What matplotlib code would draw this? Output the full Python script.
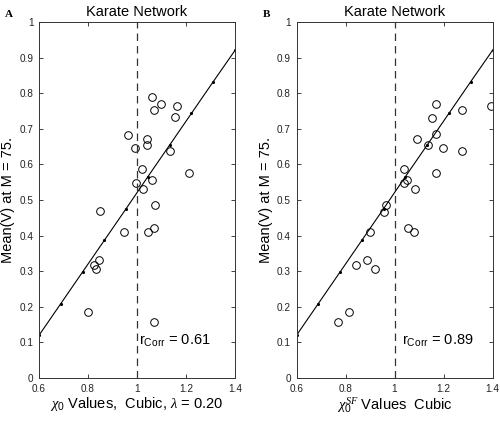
import numpy as np
import matplotlib
matplotlib.use("Agg")
import matplotlib.pyplot as plt

plt.rcParams['font.family'] = ['Liberation Sans', 'DejaVu Sans']
plt.rcParams['mathtext.fontset'] = 'custom'
plt.rcParams['mathtext.rm'] = 'Liberation Sans'
plt.rcParams['mathtext.it'] = 'Liberation Serif:italic'

# mean(V) values, same nodes in both panels
chi_a = [1.061, 1.097, 1.071, 1.163, 1.154, 0.964, 0.991, 1.040, 1.041, 1.134,
         1.021, 1.213, 1.060, 0.996, 1.024, 1.075, 0.849, 0.945, 1.044, 1.071,
         0.843, 0.826, 0.832, 0.802, 1.071]
mv_a = [0.789, 0.770, 0.754, 0.764, 0.732, 0.683, 0.646, 0.670, 0.654, 0.638,
        0.586, 0.575, 0.556, 0.547, 0.530, 0.486, 0.469, 0.411, 0.411, 0.420,
        0.331, 0.318, 0.307, 0.185, 0.157]

chi_b = [1.171, 1.276, 1.395, 1.152, 1.169, 1.091, 1.137, 1.197, 1.277, 1.040,
         1.171, 1.051, 1.038, 1.083, 0.967, 0.958, 0.898, 1.057, 1.078, 0.887,
         0.844, 0.922, 0.816, 0.768]
mv_b = [0.770, 0.754, 0.764, 0.731, 0.684, 0.670, 0.654, 0.646, 0.638, 0.586,
        0.575, 0.556, 0.547, 0.530, 0.486, 0.467, 0.411, 0.420, 0.411, 0.331,
        0.317, 0.307, 0.185, 0.158]

# fitted line with its dot markers
fit_x = [0.6, 0.689, 0.778, 0.867, 0.956, 1.044, 1.133, 1.222, 1.311, 1.4]
fit_y = [0.12, 0.209, 0.298, 0.387, 0.476, 0.565, 0.654, 0.743, 0.832, 0.92]

x_ticks = [0.6, 0.8, 1.0, 1.2, 1.4]
x_ticklabels = ["0.6", "0.8", "1", "1.2", "1.4"]
y_ticks = [0, 0.1, 0.2, 0.3, 0.4, 0.5, 0.6, 0.7, 0.8, 0.9, 1.0]
y_ticklabels = ["0", "0.1", "0.2", "0.3", "0.4", "0.5", "0.6", "0.7", "0.8", "0.9", "1"]

panels = [
    ("A", chi_a, mv_a, r"$\chi_0$ Values,  Cubic, $\lambda$ = 0.20", "0.61", 1.01),
    ("B", chi_b, mv_b, r"$\chi_0^{SF}$ Values  Cubic", "0.89", 1.03),
]

fig = plt.figure(figsize=(5.0, 4.21), dpi=100)
lefts = [0.078, 0.593]

for (label, xs, ys, xlab, r, rx), left in zip(panels, lefts):
    ax = fig.add_axes([left, 0.102, 0.392, 0.846])
    ax.plot(fit_x, fit_y, color="black", lw=0.8, marker=".", ms=2.5)
    ax.plot(xs, ys, "o", mfc="none", mec="black", ms=5.5, mew=0.7)
    ax.axvline(1.0, color="#333333", lw=0.9, ls=(0, (6, 4)))
    ax.set_xlim(0.6, 1.4)
    ax.set_ylim(0, 1)
    ax.set_xticks(x_ticks)
    ax.set_xticklabels(x_ticklabels)
    ax.set_yticks(y_ticks)
    ax.set_yticklabels(y_ticklabels)
    ax.tick_params(direction="in", top=True, right=True, labelsize=7.2,
                   length=3, width=0.6, pad=4, colors="#222222")
    for s in ax.spines.values():
        s.set_linewidth(0.7)
        s.set_color("#333333")
    ax.set_title("Karate Network", fontsize=10.5, pad=4)
    ax.set_ylabel("Mean(V) at M = 75.", fontsize=10.5, labelpad=3)
    ax.set_xlabel(xlab, fontsize=10.5, labelpad=1)
    ax.text(rx, 0.105, r"r$_{\mathrm{Corr}}$ = " + r, fontsize=10.5, va="center")
    fig.text(left - 0.068, 0.965, label, fontsize=8, fontweight="bold",
             family="Liberation Serif", va="center")

fig.savefig("out.png", dpi=100)
